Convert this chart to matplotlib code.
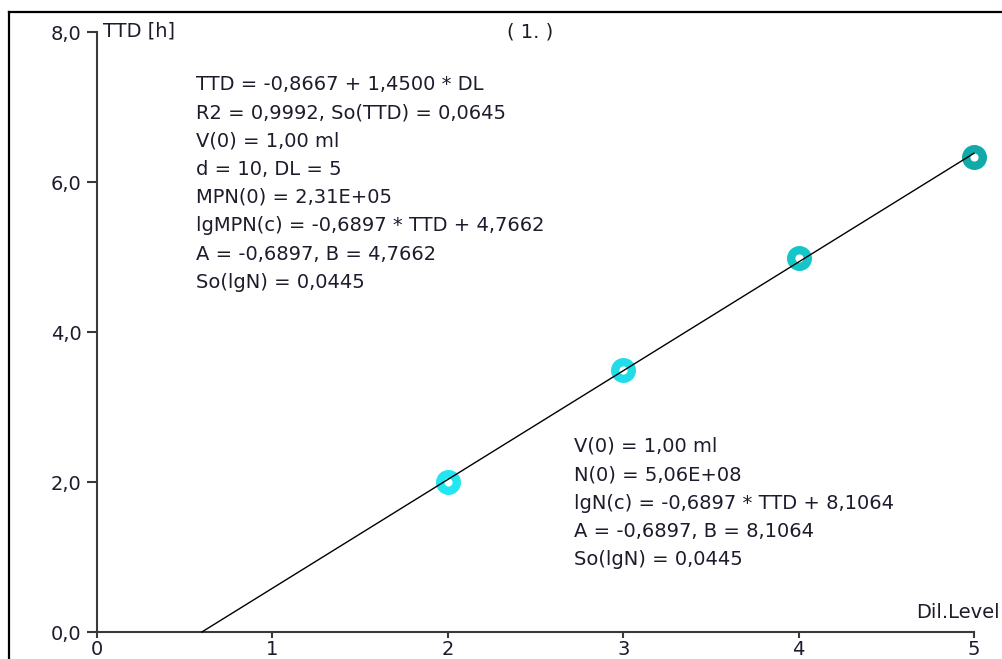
import numpy as np
import matplotlib.pyplot as plt
from matplotlib.lines import Line2D

# dilution level vs time to detection
dil_level = [2, 3, 4, 5]
ttd_hours = [2.0, 3.49, 4.99, 6.33]
point_colors = ['#22E6F0', '#22DDE8', '#14C6C8', '#12A9A9']

# regression TTD = a + b * DL
intercept = -0.8667
slope = 1.4500

x_ticks = [0, 1, 2, 3, 4, 5]
y_ticks = [0, 2, 4, 6, 8]
y_tick_labels = ['0,0', '2,0', '4,0', '6,0', '8,0']

upper_text = [
    'TTD = -0,8667 + 1,4500 * DL',
    'R2 = 0,9992, So(TTD) = 0,0645',
    'V(0) = 1,00 ml',
    'd = 10, DL = 5',
    'MPN(0) = 2,31E+05',
    'lgMPN(c) = -0,6897 * TTD + 4,7662',
    'A = -0,6897, B = 4,7662',
    'So(lgN) = 0,0445',
]
lower_text = [
    'V(0) = 1,00 ml',
    'N(0) = 5,06E+08',
    'lgN(c) = -0,6897 * TTD + 8,1064',
    'A = -0,6897, B = 8,1064',
    'So(lgN) = 0,0445',
]

W, H = 1003, 659
fig = plt.figure(figsize=(W / 100, H / 100), dpi=100)
fig.patch.set_facecolor('white')

# outer frame (cut off on right and bottom)
fig.add_artist(Line2D([9 / W, 9 / W], [0, 1 - 12 / H], color='black', lw=1.6))
fig.add_artist(Line2D([9 / W, 1], [1 - 12 / H, 1 - 12 / H], color='black', lw=1.6))

ax = fig.add_axes([97 / W, 1 - 632 / H, (974 - 97) / W, (632 - 32) / H])
ax.set_xlim(0, 5)
ax.set_ylim(0, 8)
for s in ['top', 'right']:
    ax.spines[s].set_visible(False)
for s in ['left', 'bottom']:
    ax.spines[s].set_color('#3a3a3a')
    ax.spines[s].set_linewidth(1.5)

txt_color = '#1c1c2c'
ax.set_xticks(x_ticks)
ax.set_xticklabels([str(v) for v in x_ticks])
ax.set_yticks(y_ticks)
ax.set_yticklabels(y_tick_labels)
ax.tick_params(axis='y', length=7, width=1.5, color='#3a3a3a', pad=4,
               labelsize=14, labelcolor=txt_color)
ax.tick_params(axis='x', length=4, width=1.5, color='#3a3a3a', pad=2,
               labelsize=14, labelcolor=txt_color)

# regression line from x-intercept to DL = 5
x0 = -intercept / slope
xl = np.array([x0, 5])
ax.plot(xl, intercept + slope * xl, color='black', lw=1, zorder=4, clip_on=False)

for x, y, c in zip(dil_level, ttd_hours, point_colors):
    ax.plot(x, y, marker='o', ms=12, mew=6, mfc='white', mec=c,
            ls='none', zorder=3, clip_on=False)

dy = 28.3 / 75  # line spacing in data units
for i, line in enumerate(upper_text):
    ax.text(0.566, 7.43 - i * dy, line, fontsize=14, color=txt_color,
            ha='left', va='top')
for i, line in enumerate(lower_text):
    ax.text(2.72, 2.6 - i * dy, line, fontsize=14, color=txt_color,
            ha='left', va='top')

fig.text(103 / W, 1 - 31 / H, 'TTD [h]', fontsize=14, color=txt_color,
         ha='left', va='center')
fig.text(530 / W, 1 - 32 / H, '( 1. )', fontsize=14, color=txt_color,
         ha='center', va='center')
fig.text(1000 / W, 1 - 613 / H, 'Dil.Level', fontsize=14, color=txt_color,
         ha='right', va='center')

fig.savefig('out.png', dpi=100)
